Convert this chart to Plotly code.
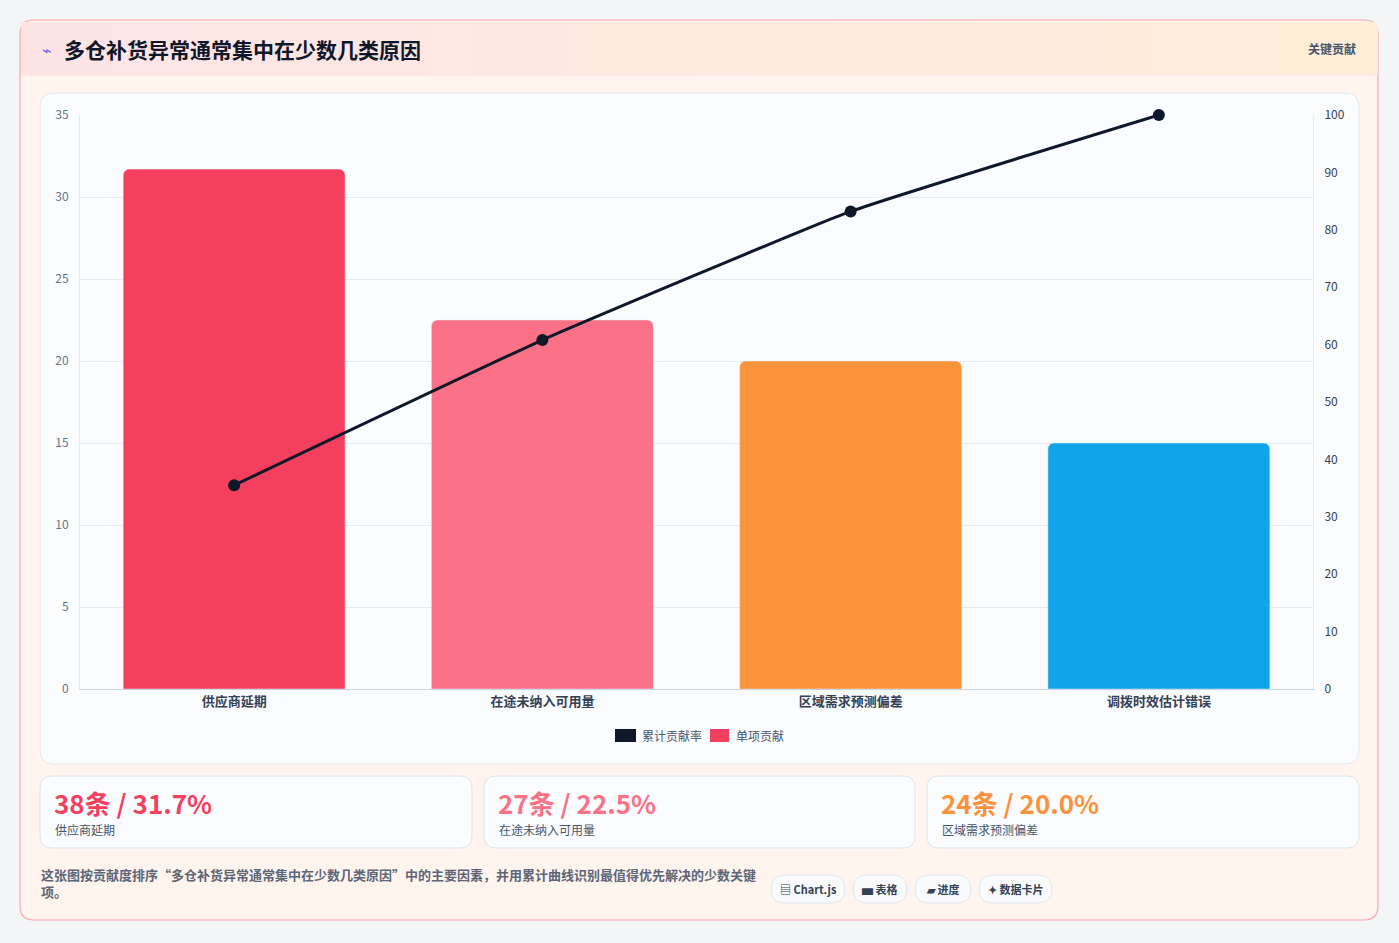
import plotly.graph_objects as go

W, H = 1399, 943

categories = ['供应商延期', '在途未纳入可用量', '区域需求预测偏差', '调拨时效估计错误']
contribution = [31.7, 22.5, 20.0, 15.0]
cumulative = [35.5, 60.8, 83.2, 100.0]
bar_colors = ['#f43f5e', '#fb7185', '#fb923c', '#0ea5e9']
card_values = ['38条 / 31.7%', '27条 / 22.5%', '24条 / 20.0%']
card_labels = ['供应商延期', '在途未纳入可用量', '区域需求预测偏差']
card_colors = ['#f43f5e', '#fb7185', '#fb923c']
pills = ['▤ Chart.js', '▅ 表格', '▰ 进度', '✦ 数据卡片']

FONT = 'Noto Sans CJK SC'


def px_x(x):
    return x / W


def px_y(y):
    return 1 - y / H


def rrect(x0, y0, x1, y1, r):
    X0, X1 = px_x(x0), px_x(x1)
    Y0, Y1 = px_y(y0), px_y(y1)
    rx, ry = r / W, r / H
    return (f'M{X0+rx},{Y0} L{X1-rx},{Y0} Q{X1},{Y0} {X1},{Y0-ry} '
            f'L{X1},{Y1+ry} Q{X1},{Y1} {X1-rx},{Y1} L{X0+rx},{Y1} '
            f'Q{X0},{Y1} {X0},{Y1+ry} L{X0},{Y0-ry} Q{X0},{Y0} {X0+rx},{Y0} Z')


def mix(c1, c2, t):
    a = [int(c1[i:i+2], 16) for i in (1, 3, 5)]
    b = [int(c2[i:i+2], 16) for i in (1, 3, 5)]
    return '#' + ''.join(f'{round(a[k]+(b[k]-a[k])*t):02x}' for k in range(3))


shapes = []
# outer card
shapes.append(dict(type='path', path=rrect(20, 20, 1378, 920, 14),
                   fillcolor='#fff4ee', line=dict(color='#fda4af', width=1.2)))
# header gradient strips
n = 30
for i in range(n):
    x0 = 21 + i * (1356 / n)
    x1 = 21 + (i + 1) * (1356 / n) + 1
    shapes.append(dict(type='rect', x0=px_x(x0), x1=px_x(x1), y0=px_y(75), y1=px_y(22),
                       fillcolor=mix('#ffe4e6', '#ffedd8', i / (n - 1)), line=dict(width=0)))
shapes.append(dict(type='line', x0=px_x(21), x1=px_x(1377), y0=px_y(75), y1=px_y(75),
                   line=dict(color='#fde2e4', width=1)))
# chart panel
shapes.append(dict(type='path', path=rrect(40, 93, 1359, 764, 14),
                   fillcolor='#fbfcfd', line=dict(color='#e2e8f0', width=1)))
# stat cards
card_x = [(40, 472), (484, 915), (927, 1359)]
for x0, x1 in card_x:
    shapes.append(dict(type='path', path=rrect(x0, 776, x1, 848, 12),
                       fillcolor='#fbfcfe', line=dict(color='#dbe4f0', width=1)))
# pills
pill_x = [(771, 845), (853, 907), (915, 971), (979, 1052)]
for x0, x1 in pill_x:
    shapes.append(dict(type='path', path=rrect(x0, 875, x1, 903, 14),
                       fillcolor='#f8fafc', line=dict(color='#e2e8f0', width=1)))
# legend swatches
shapes.append(dict(type='rect', x0=px_x(615), x1=px_x(636), y0=px_y(742), y1=px_y(729),
                   fillcolor='#0f172a', line=dict(width=0)))
shapes.append(dict(type='rect', x0=px_x(710), x1=px_x(729), y0=px_y(742), y1=px_y(729),
                   fillcolor='#f43f5e', line=dict(width=0)))
for s in shapes:
    s.update(xref='paper', yref='paper', layer='below')

annotations = [
    dict(text='⌁', x=px_x(47), y=px_y(49), font=dict(size=16, color='#6366f1')),
    dict(text='<b>多仓补货异常通常集中在少数几类原因</b>', x=px_x(62), y=px_y(49), xanchor='left',
         font=dict(size=21, color='#0f172a')),
    dict(text='<b>关键贡献</b>', x=px_x(1358), y=px_y(48), xanchor='right', font=dict(size=12, color='#475569')),
    dict(text='累计贡献率', x=px_x(640), y=px_y(735), xanchor='left', font=dict(size=12, color='#475569')),
    dict(text='单项贡献', x=px_x(734), y=px_y(735), xanchor='left', font=dict(size=12, color='#475569')),
    dict(text='<b>这张图按贡献度排序“多仓补货异常通常集中在少数几类原因”中的主要因素，并用累计曲线识别最值得优先解决的少数关键<br>项。</b>',
         x=px_x(39), y=px_y(883), xanchor='left', align='left', font=dict(size=13, color='#5b6678')),
]
for (x0, x1), v, lab, c in zip(card_x, card_values, card_labels, card_colors):
    annotations.append(dict(text=f'<b>{v}</b>', x=px_x(x0 + 12), y=px_y(802), xanchor='left',
                            font=dict(size=26, color=c)))
    annotations.append(dict(text=lab, x=px_x(x0 + 13), y=px_y(829), xanchor='left',
                            font=dict(size=12, color='#475569')))
for (x0, x1), p in zip(pill_x, pills):
    annotations.append(dict(text=f'<b>{p}</b>', x=px_x((x0 + x1) / 2), y=px_y(889),
                            font=dict(size=11, color='#334155')))
for a in annotations:
    a.update(xref='paper', yref='paper', showarrow=False, yanchor='middle')
    a.setdefault('xanchor', 'center')
    a['font'].setdefault('family', FONT)

fig = go.Figure()
fig.add_trace(go.Bar(x=categories, y=contribution, marker=dict(color=bar_colors, cornerradius=6),
                     width=0.72, name='单项贡献', yaxis='y'))
fig.add_trace(go.Scatter(x=categories, y=cumulative, mode='lines+markers', name='累计贡献率',
                         line=dict(color='#0f172a', width=3, shape='spline', smoothing=0.35),
                         marker=dict(size=12, color='#0f172a'),
                         yaxis='y2', cliponaxis=False))

fig.update_layout(
    width=W, height=H, autosize=False, margin=dict(l=0, r=0, t=0, b=0, pad=0),
    paper_bgcolor='#f4f5f7', plot_bgcolor='rgba(0,0,0,0)',
    showlegend=False, shapes=shapes, annotations=annotations,
    font=dict(family=FONT),
    xaxis=dict(domain=[px_x(80), px_x(1313)], tickfont=dict(size=13, color='#334155', family=FONT),
               showline=True, linecolor='#cbd5e1', ticks='', anchor='y', automargin=False,
               tickprefix='<b>', ticksuffix='</b>'),
    yaxis=dict(domain=[px_y(689), px_y(115)], range=[0, 35], dtick=5, gridcolor='#e5e9f0',
               tickfont=dict(size=12, color='#64748b'), zeroline=False, ticks='outside', automargin=False,
               ticklen=8, tickcolor='rgba(0,0,0,0)', showline=True, linecolor='#e5e9f0'),
    yaxis2=dict(overlaying='y', side='right', range=[0, 100], dtick=10, showgrid=False, automargin=False,
                tickfont=dict(size=12, color='#334155'), ticks='outside', ticklen=8,
                tickcolor='rgba(0,0,0,0)', showline=True, linecolor='#e5e9f0', zeroline=False),
)

fig.write_html(
    'out.html',
    config={'displayModeBar': False},
    post_script=("document.documentElement.style.margin='0';document.documentElement.style.overflow='hidden';"
                 "document.body.style.margin='0';document.body.style.overflow='hidden';"),
)
